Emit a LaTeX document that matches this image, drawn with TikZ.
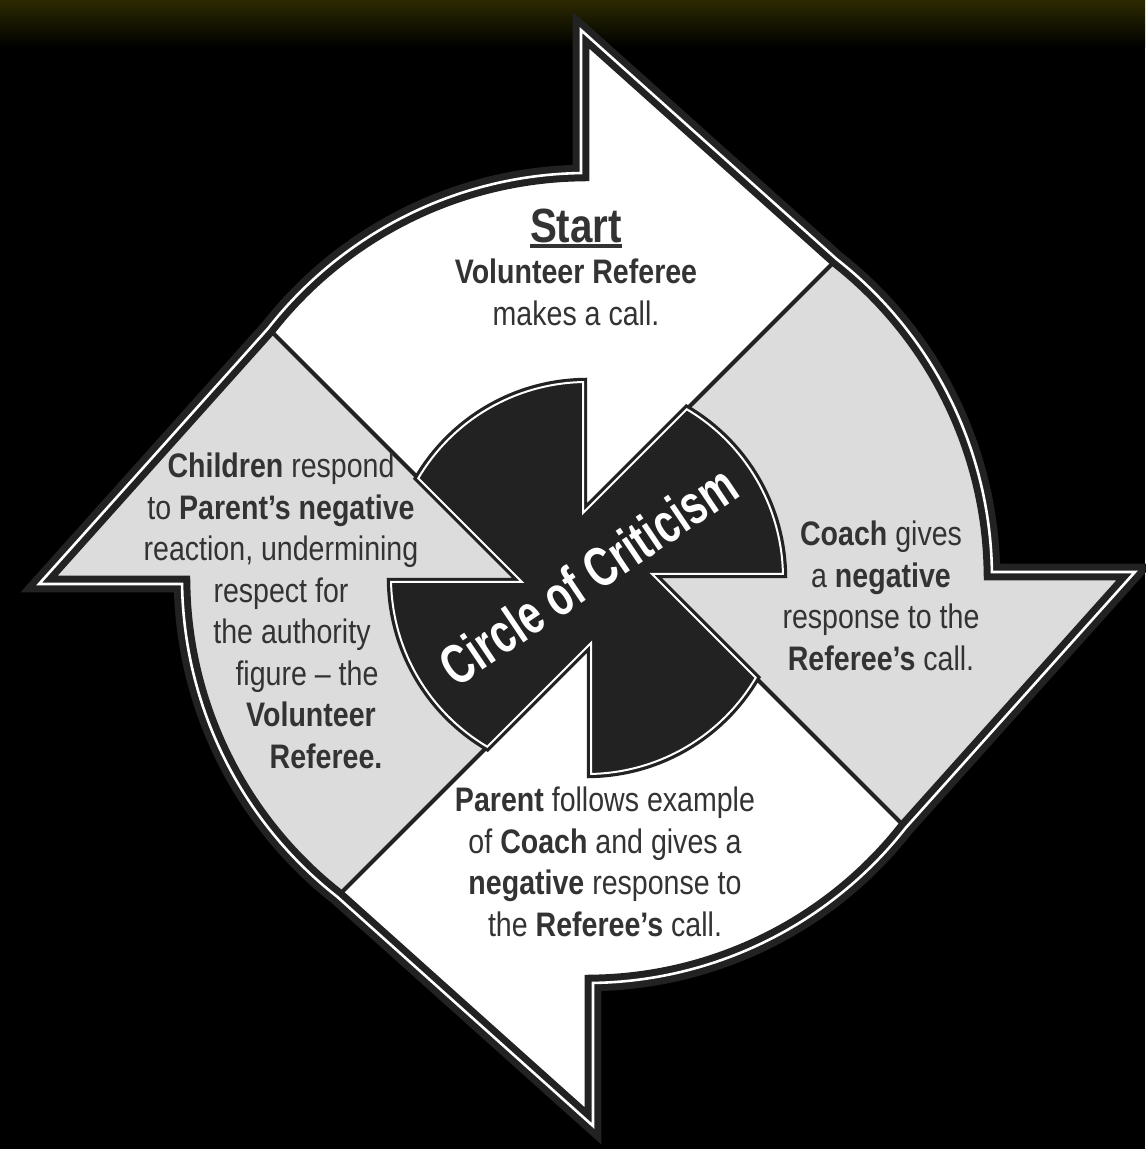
\documentclass[tikz,border=0pt]{standalone}
\usepackage{fontspec}
\setmainfont{Liberation Sans}[FakeStretch=0.84]
\newfontfamily\narrowfont{Liberation Sans}[FakeStretch=0.72]
\usetikzlibrary{calc}

\definecolor{ink}{HTML}{222222}
\definecolor{panel}{HTML}{DCDCDC}
\definecolor{bandtop}{RGB}{44,42,0}
\definecolor{txt}{HTML}{333333}

% thick underline for the heading
\newcommand{\thickul}[1]{\setbox0\hbox{#1}\rlap{\rule[-3pt]{\wd0}{2pt}}\box0}
% outer contour: four curved arrows, clockwise
\newcommand{\ringpath}{(141.92:405)
  \foreach \a in {0,-90,-180,-270} {
    arc[start angle=141.92+\a, end angle=90.85+\a, radius=405]
    -- ({90.63+\a}:548) -- ({51.92+\a}:405)
  } -- cycle}
% centre pinwheel
\newcommand{\hubpath}{(149.41:196)
  \foreach \a in {0,-90,-180,-270} {
    arc[start angle=149.41+\a, end angle=91.17+\a, radius=196]
    -- ({93.52+\a}:65.12) -- ({59.41+\a}:196)
  } -- cycle}

\begin{document}
\begin{tikzpicture}[
  x=0.5pt, y=0.5pt,
  ringline/.style={draw=ink, line width=3.5pt, double=white, double distance=1.3pt, line join=miter},
  divider/.style={draw=ink, line width=2pt},
  hub/.style={fill=ink, draw=ink, line width=1.6pt, double=white, double distance=1pt},
  note/.style={text=txt, align=center, inner sep=0pt, font=\fontsize{17}{20.75}\selectfont},
  hubtext/.style={text=white, inner sep=0pt, font=\narrowfont\fontsize{28}{30}\selectfont\bfseries},
]
\useasboundingbox (-587,-571) rectangle (558,578);

% background
\fill[black] (-587,-571) rectangle (558,578);
\shade[top color=bandtop, bottom color=black] (-587,530) rectangle (558,578);

% arrows: grey, with top and bottom ones white
\fill[panel] \ringpath;
\begin{scope}
  \clip \ringpath;
  \fill[white] (-69,0) -- (631,700) -- (-769,700) -- cycle;
  \fill[white] (69,0) -- (-631,-700) -- (769,-700) -- cycle;
\end{scope}

% dividers between the arrows
\foreach \a in {0,-90,-180,-270} {
  \coordinate (tip\a) at ({51.92+\a}:405);
  \coordinate (rim\a) at ({59.41+\a}:196);
  \draw[divider] (tip\a) -- (rim\a);
}

\draw[ringline] \ringpath;
\path[hub] \hubpath;

% texts
\node[note] (start) at (-11,311)
  {{\fontsize{24}{28}\selectfont\bfseries\thickul{Start}}\\
   \textbf{Volunteer Referee}\\ makes a call.};
\node[note] (coach) at (294,-18)
  {\textbf{Coach} gives\\ a \textbf{negative}\\ response to the\\ \textbf{Referee’s} call.};
\node[note] (parent) at (18,-284)
  {\textbf{Parent} follows example\\ of \textbf{Coach} and gives a\\
   \textbf{negative} response to\\ the \textbf{Referee’s} call.};
\node[note] (children) at (-306,-33)
  {\textbf{Children} respond\\ to \textbf{Parent’s negative}\\ reaction, undermining\\
   respect for\\ \hspace*{11pt}the authority\\ \hspace*{26pt}figure -- the\\
   \hspace*{30pt}\textbf{Volunteer}\\ \hspace*{45pt}\textbf{Referee.}};
\node[hubtext, rotate=34] (circ) at (1,3) {Circle of Criticism};

\end{tikzpicture}
\end{document}
